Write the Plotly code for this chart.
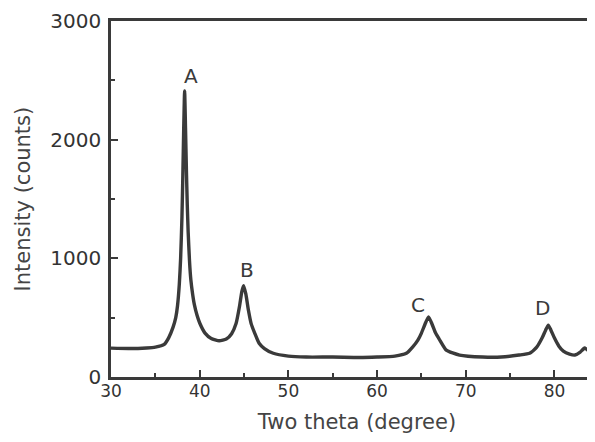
import plotly.graph_objects as go

two_theta = [30, 32, 34, 35, 36, 36.5, 37, 37.3, 37.5, 37.7, 37.85, 38.0, 38.1, 38.2, 38.3,
             38.4, 38.5, 38.6, 38.7, 38.85, 39.0, 39.2, 39.4, 39.7, 40, 40.6, 41.3, 42.2, 43,
             43.6, 44.1, 44.5, 44.75, 44.95, 45.2, 45.5, 45.8, 46.2, 46.7, 47.3,
             48.3, 50, 52, 55, 58, 60, 62, 63.3, 64, 64.6, 65.0, 65.4, 65.8, 66.2, 66.6, 67.0,
             67.8, 69.3, 71.9, 74, 76, 77.2, 78.0, 78.6, 79.0, 79.3, 79.6, 80.0, 80.5, 81.0,
             81.7, 82.3, 82.9, 83.4, 84, 84.6, 85.5]
intensity = [243, 240, 245, 252, 275, 330, 420, 500, 600, 780, 1000, 1350, 1700, 2100, 2410,
             2100, 1750, 1450, 1220, 980, 820, 700, 610, 520, 455, 370, 325, 305, 320,
             365, 450, 600, 720, 770, 700, 560, 450, 370, 285, 240,
             200, 176, 168, 168, 164, 168, 176, 200, 252, 311, 370, 445, 507, 445, 370, 320,
             227, 185, 168, 168, 185, 200, 252, 328, 395, 437, 395, 328, 260, 218,
             193, 185, 210, 244, 210, 185, 168]

peak_labels = ["A", "B", "C", "D"]
peak_label_x = [39.0, 45.3, 64.6, 78.7]
peak_label_y = [2540, 900, 610, 580]

x_ticks = [30, 40, 50, 60, 70, 80]
y_ticks = [0, 1000, 2000, 3000]

FONT = "DejaVu Sans"
INK = "#3a3a3a"

fig = go.Figure()
fig.add_trace(go.Scatter(x=two_theta, y=intensity, mode="lines",
                         line=dict(color=INK, width=3.4, shape="spline", smoothing=0.5),
                         hoverinfo="skip", showlegend=False))

for lab, lx, ly in zip(peak_labels, peak_label_x, peak_label_y):
    fig.add_annotation(x=lx, y=ly, text=lab, showarrow=False,
                       font=dict(family=FONT, size=20, color=INK))

fig.add_annotation(text="Intensity (counts)", xref="paper", yref="paper",
                   x=-0.178, y=0.5, textangle=-90, showarrow=False,
                   xanchor="center", yanchor="middle",
                   font=dict(family=FONT, size=21, color="#444"))

fig.update_layout(
    width=595, height=426,
    margin=dict(l=103, r=0, t=13, b=57),
    paper_bgcolor="white", plot_bgcolor="white",
    font=dict(family=FONT, color="#333"),
)
fig.update_xaxes(range=[30, 85.47], tickvals=x_ticks, ticks="inside", ticklen=7, tickwidth=2,
                 tickcolor=INK, showline=True, linewidth=2.5, linecolor=INK, mirror=True,
                 showgrid=False, zeroline=False, automargin=False, ticklabelstandoff=-3,
                 tickfont=dict(family=FONT, size=17, color="#333"),
                 minor=dict(dtick=5, tick0=0, ticks="inside", ticklen=4, tickwidth=2, tickcolor=INK),
                 title=dict(text="Two theta (degree)", font=dict(family=FONT, size=21, color="#444"),
                            standoff=23))
fig.update_yaxes(range=[0, 3000], tickvals=y_ticks, ticks="inside", ticklen=7, tickwidth=2,
                 tickcolor=INK, showline=True, linewidth=2.5, linecolor=INK, mirror=False,
                 showgrid=False, zeroline=False, ticklabelstandoff=3, automargin=False,
                 tickfont=dict(family=FONT, size=20, color="#333"),
                 minor=dict(dtick=500, tick0=0, ticks="inside", ticklen=4, tickwidth=2, tickcolor=INK))

fig.write_html("out.html")
